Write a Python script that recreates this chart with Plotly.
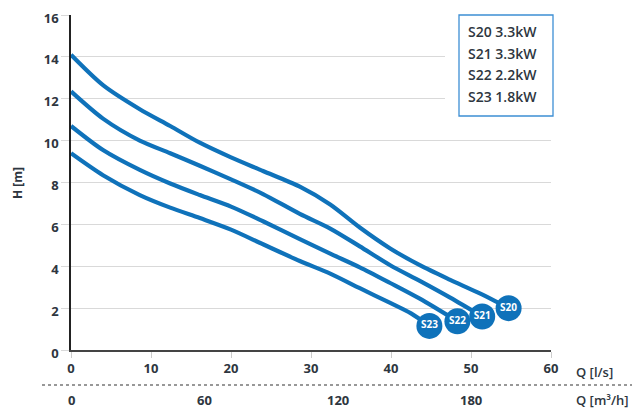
import plotly.graph_objects as go

# ---- data ----
names = ["S20", "S21", "S22", "S23"]
legend_labels = ["S20 3.3kW", "S21 3.3kW", "S22 2.2kW", "S23 1.8kW"]

s20_q = [0, 4, 8.6, 12.4, 16.1, 20, 24, 28.6, 32.4, 36.1, 39.9, 43.6, 47.4, 51.1, 54.7]
s20_h = [14.1, 12.65, 11.5, 10.7, 9.9, 9.2, 8.55, 7.8, 6.95, 5.85, 4.85, 4.05, 3.35, 2.7, 2.0]

s21_q = [0, 4, 8.6, 12.4, 16.1, 20, 24, 28.6, 32.4, 36.1, 39.9, 43.6, 47.4, 51.4]
s21_h = [12.35, 11.05, 10.0, 9.4, 8.8, 8.15, 7.45, 6.5, 5.8, 4.95, 4.05, 3.3, 2.5, 1.6]

s22_q = [0, 4, 8.6, 12.4, 16.1, 20, 24, 28.6, 32.4, 36.1, 39.9, 43.6, 48.3]
s22_h = [10.7, 9.55, 8.6, 7.95, 7.4, 6.85, 6.15, 5.3, 4.6, 3.95, 3.2, 2.45, 1.37]

s23_q = [0, 4, 8.6, 12.4, 16.1, 20, 24, 28.6, 32.4, 36.1, 39.9, 42.5, 44.8]
s23_h = [9.4, 8.35, 7.4, 6.8, 6.3, 5.75, 5.05, 4.25, 3.65, 2.95, 2.25, 1.75, 1.15]

x_ticks_ls = [0, 10, 20, 30, 40, 50, 60]
x_ticks_m3h = [0, 60, 120, 180]
y_ticks = [0, 2, 4, 6, 8, 10, 12, 14, 16]

series = [(s20_q, s20_h), (s21_q, s21_h), (s22_q, s22_h), (s23_q, s23_h)]

BLUE = "#0f72ba"
TXT = "#2e3640"
FONT = "Open Sans"

fig = go.Figure()
for name, (q, h) in zip(names, series):
    fig.add_trace(go.Scatter(
        x=q, y=h, mode="lines", name=name,
        line=dict(color=BLUE, width=4.2, shape="spline", smoothing=0.8),
        hoverinfo="skip", showlegend=False,
    ))
for name, (q, h) in zip(names, series):
    fig.add_trace(go.Scatter(
        x=[q[-1]], y=[h[-1]], mode="markers+text", text=[name],
        textposition="middle center",
        textfont=dict(color="white", size=10, family=FONT, weight=700),
        marker=dict(size=26, color=BLUE),
        showlegend=False, hoverinfo="skip",
    ))

# the page body adds an 8px offset; the figure is sized/margined so the plot lands where the reference has it
fig.update_layout(
    width=632, height=402,
    margin=dict(l=63, r=89, t=7, b=60, autoexpand=False),
    paper_bgcolor="white", plot_bgcolor="white",
    font=dict(family=FONT, color=TXT, size=13),
    xaxis=dict(
        range=[0, 60], tickvals=x_ticks_ls, showgrid=False, zeroline=False,
        showline=True, linecolor="#444", linewidth=1.5, automargin=False,
        ticks="outside", ticklen=6, tickcolor="#cccccc", tickwidth=1,
        ticklabeloverflow="allow",
        tickfont=dict(size=13, color=TXT, family=FONT, weight=700),
    ),
    yaxis=dict(
        range=[0, 16], tickvals=y_ticks, showgrid=True, gridcolor="#d9d9d9",
        gridwidth=1, zeroline=False, showline=True, linecolor="#222", linewidth=1.5,
        automargin=False, ticklabeloverflow="allow", ticklabelshift=3,
        ticks="outside", ticklen=8, tickcolor="#d9d9d9", tickwidth=1,
        tickfont=dict(size=13, color=TXT, family=FONT, weight=700),
    ),
)

# y axis title
fig.add_annotation(xref="paper", yref="paper", x=(17 - 71) / 480, y=(350 - 183) / 335,
                   xanchor="center", yanchor="middle", showarrow=False, textangle=-90,
                   text="H [m]", font=dict(size=12, color=TXT, family=FONT, weight=700))

# legend box
fig.add_shape(type="rect", xref="paper", yref="paper",
              x0=(445 - 71) / 480, x1=(570 - 71) / 480,
              y0=(350 - 122) / 335, y1=(350 - 8) / 335,
              fillcolor="white", line=dict(width=0), layer="above")
fig.add_shape(type="rect", xref="paper", yref="paper",
              x0=(459 - 71) / 480, x1=(553 - 71) / 480,
              y0=(350 - 116) / 335, y1=(350 - 15) / 335,
              fillcolor="white", line=dict(color="#3d8fd4", width=1.3), layer="above")
for i, lab in enumerate(legend_labels):
    ypx = 32 + i * 21.5
    fig.add_annotation(xref="paper", yref="paper",
                       x=(466 - 71) / 480, y=(350 - ypx) / 335,
                       xanchor="left", yanchor="middle", showarrow=False,
                       text=lab, font=dict(size=14, color=TXT, family=FONT, weight=600))

# x axis unit label
fig.add_annotation(xref="paper", yref="paper", x=(574 - 71) / 480, y=(350 - 372) / 335,
                   xanchor="left", yanchor="middle", showarrow=False,
                   text="Q [l/s]", font=dict(size=13, color=TXT, family=FONT, weight=600))

# dashed separator
fig.add_shape(type="line", xref="paper", yref="paper",
              x0=(42 - 71) / 480, x1=(640 - 71) / 480,
              y0=(350 - 385) / 335, y1=(350 - 385) / 335,
              line=dict(color="#333", width=1.2, dash="dot"))

# m3/h scale
for v in x_ticks_m3h:
    fig.add_annotation(xref="x", yref="paper", x=v / 3.6, y=(350 - 400) / 335,
                       xanchor="center", yanchor="middle", showarrow=False,
                       text=str(v), font=dict(size=13, color=TXT, family=FONT, weight=700))
fig.add_annotation(xref="paper", yref="paper", x=(574 - 71) / 480, y=(350 - 400) / 335,
                   xanchor="left", yanchor="middle", showarrow=False,
                   text="Q [m³/h]", font=dict(size=13, color=TXT, family=FONT, weight=600))

fig.write_html("out.html")
